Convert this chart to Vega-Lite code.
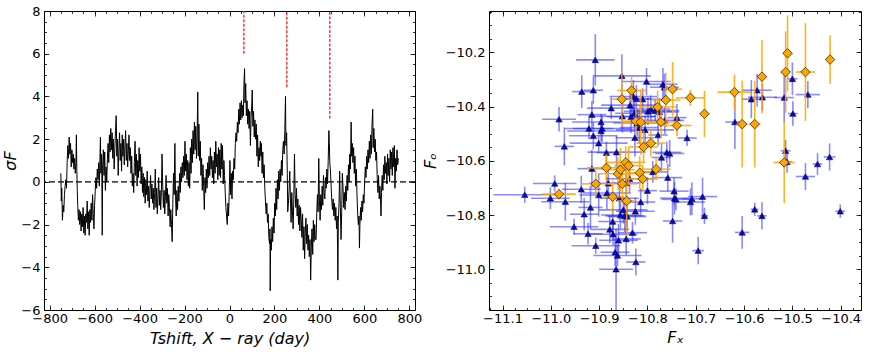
{
"$schema":"https://vega.github.io/schema/vega-lite/v6.json",
"background":"white",
"padding":{"left":2,"top":4,"right":2,"bottom":2},
"spacing":74,
"bounds":"flush",
"config":{
 "font":"DejaVu Sans",
 "view":{"stroke":"black","strokeWidth":1},
 "axis":{"domain":false,"grid":false,"tickColor":"black","tickWidth":0.8,"labelFont":"DejaVu Sans","labelFontSize":13,"labelColor":"black","titleFont":"DejaVu Sans","titleFontSize":16,"titleFontStyle":"italic","titleFontWeight":"normal","titleColor":"black","labelFlush":false,"labelOverlap":false,"labelExpr":"replace(datum.label, '-', '−')"}
},
"datasets":{
"red":[{"t":64,"lo":6.0,"hi":8},{"t":255,"lo":4.43,"hi":8},{"t":446,"lo":2.97,"hi":8}],
"sig":[
{"t":-750,"s":0.4},{"t":-748,"s":-0.9},{"t":-746,"s":-0.3},{"t":-743,"s":-1.8},{"t":-740,"s":-1.1},{"t":-737,"s":-1.4},{"t":-734,"s":-0.6},{"t":-731,"s":-0.2},{"t":-728,"s":0.1},{"t":-725,"s":-0.3},{"t":-722,"s":0.9},{"t":-719,"s":1.7},{"t":-716,"s":1.1},{"t":-713,"s":2.1},{"t":-710,"s":1.3},{"t":-707,"s":1.8},{"t":-704,"s":0.7},{"t":-701,"s":1.5},{"t":-698,"s":0.9},{"t":-695,"s":1.3},{"t":-692,"s":0.6},{"t":-689,"s":1.1},{"t":-686,"s":0.4},{"t":-683,"s":0.9},{"t":-681,"s":2.2},{"t":-679,"s":0.6},{"t":-677,"s":-0.4},
{"t":-675,"s":-1.1},{"t":-672,"s":-1.8},{"t":-669,"s":-1.3},{"t":-666,"s":-2.0},{"t":-663,"s":-1.4},{"t":-660,"s":-2.3},{"t":-657,"s":-1.5},{"t":-654,"s":-2.1},{"t":-651,"s":-1.2},{"t":-648,"s":-2.4},{"t":-645,"s":-1.6},{"t":-642,"s":-2.5},{"t":-639,"s":-1.5},{"t":-636,"s":-1.9},{"t":-633,"s":-0.9},{"t":-630,"s":-2.2},{"t":-627,"s":-1.4},{"t":-624,"s":-2.5},{"t":-621,"s":-1.3},{"t":-618,"s":-1.9},{"t":-615,"s":-1.0},{"t":-612,"s":-1.8},{"t":-609,"s":-0.6},{"t":-606,"s":-1.5},{"t":-603,"s":-2.2},{"t":-600,"s":-1.1},{"t":-597,"s":-0.4},{"t":-594,"s":0.2},{"t":-591,"s":-0.3},{"t":-588,"s":0.6},{"t":-585,"s":0.1},{"t":-582,"s":0.9},{"t":-579,"s":-0.2},{"t":-576,"s":1.2},{"t":-574,"s":2.1},{"t":-572,"s":0.4},{"t":-570,"s":1.3},{"t":-568,"s":0.5},{"t":-566,"s":-2.5},{"t":-564,"s":0.8},{"t":-561,"s":1.5},{"t":-558,"s":0.3},{"t":-555,"s":1.4},{"t":-552,"s":-0.4},{"t":-549,"s":0.7},{"t":-546,"s":0.0},{"t":-543,"s":1.1},{"t":-540,"s":1.8},{"t":-537,"s":0.9},{"t":-534,"s":2.2},{"t":-531,"s":1.4},{"t":-528,"s":2.5},{"t":-525,"s":1.5},{"t":-522,"s":2.3},{"t":-519,"s":1.1},{"t":-516,"s":2.0},{"t":-513,"s":0.6},{"t":-510,"s":1.5},{"t":-507,"s":2.4},{"t":-504,"s":3.1},{"t":-501,"s":1.2},{"t":-498,"s":2.0},{"t":-495,"s":0.3},{"t":-492,"s":1.5},{"t":-489,"s":2.3},{"t":-486,"s":1.0},{"t":-483,"s":1.8},{"t":-480,"s":0.5},{"t":-477,"s":2.2},{"t":-474,"s":1.2},{"t":-471,"s":2.0},{"t":-468,"s":0.8},{"t":-465,"s":1.7},{"t":-462,"s":2.4},{"t":-459,"s":1.0},{"t":-456,"s":1.8},{"t":-453,"s":0.7},{"t":-450,"s":1.4},{"t":-447,"s":2.2},{"t":-444,"s":1.0},{"t":-441,"s":1.6},{"t":-438,"s":0.4},{"t":-435,"s":1.2},{"t":-432,"s":-0.2},{"t":-429,"s":0.4},{"t":-426,"s":-0.5},{"t":-423,"s":0.9},{"t":-420,"s":1.9},{"t":-417,"s":0.3},{"t":-414,"s":1.3},{"t":-411,"s":-0.2},{"t":-408,"s":1.0},{"t":-405,"s":0.2},{"t":-402,"s":1.6},{"t":-399,"s":0.5},{"t":-396,"s":1.3},{"t":-393,"s":-0.1},{"t":-390,"s":0.7},{"t":-387,"s":-0.5},{"t":-384,"s":0.4},{"t":-381,"s":-0.7},{"t":-378,"s":0.2},{"t":-375,"s":-1.0},{"t":-372,"s":0.1},{"t":-369,"s":-0.6},{"t":-366,"s":0.5},{"t":-363,"s":-0.9},{"t":-360,"s":-0.2},{"t":-357,"s":-1.2},{"t":-354,"s":-0.4},{"t":-351,"s":0.3},{"t":-348,"s":-0.8},{"t":-345,"s":-0.1},{"t":-342,"s":-1.0},{"t":-339,"s":-0.3},{"t":-336,"s":-1.3},{"t":-333,"s":-0.5},{"t":-330,"s":0.6},{"t":-327,"s":-1.2},{"t":-324,"s":-0.3},{"t":-321,"s":-1.5},{"t":-318,"s":-0.6},{"t":-315,"s":0.2},{"t":-312,"s":-1.1},{"t":-309,"s":-0.4},{"t":-306,"s":-1.3},{"t":-303,"s":-0.5},{"t":-300,"s":1.3},{"t":-297,"s":-0.2},{"t":-294,"s":-1.2},{"t":-291,"s":-0.4},{"t":-288,"s":-1.5},{"t":-285,"s":-0.7},{"t":-282,"s":0.3},{"t":-279,"s":-1.0},{"t":-276,"s":-0.3},{"t":-273,"s":-1.6},{"t":-270,"s":-0.6},{"t":-267,"s":-1.2},{"t":-264,"s":-2.1},{"t":-261,"s":-1.3},{"t":-258,"s":-2.0},{"t":-255,"s":-2.8},{"t":-252,"s":-1.0},{"t":-249,"s":0.4},{"t":-246,"s":-0.6},{"t":-243,"s":1.8},{"t":-240,"s":-0.7},{"t":-237,"s":-1.6},{"t":-234,"s":-0.4},{"t":-231,"s":-1.3},{"t":-228,"s":-0.2},{"t":-225,"s":-0.9},{"t":-222,"s":0.4},{"t":-219,"s":-0.5},{"t":-216,"s":0.7},{"t":-213,"s":0.0},{"t":-210,"s":0.9},{"t":-207,"s":0.2},{"t":-204,"s":1.2},{"t":-201,"s":0.3},{"t":-198,"s":1.9},{"t":-195,"s":0.5},{"t":-192,"s":1.3},{"t":-189,"s":0.1},{"t":-186,"s":1.0},{"t":-183,"s":-0.2},{"t":-180,"s":0.9},{"t":-177,"s":-0.3},{"t":-174,"s":1.6},{"t":-171,"s":0.4},{"t":-168,"s":2.0},{"t":-165,"s":0.9},{"t":-162,"s":2.4},{"t":-159,"s":1.3},{"t":-156,"s":2.8},{"t":-153,"s":1.5},{"t":-150,"s":2.6},{"t":-147,"s":1.1},{"t":-144,"s":2.2},{"t":-141,"s":4.2},{"t":-139,"s":1.2},{"t":-136,"s":2.7},{"t":-133,"s":1.0},{"t":-130,"s":1.9},{"t":-127,"s":0.3},{"t":-124,"s":1.1},{"t":-121,"s":-0.4},{"t":-118,"s":0.8},{"t":-115,"s":-0.2},{"t":-112,"s":-1.3},{"t":-109,"s":0.2},{"t":-106,"s":-0.5},{"t":-103,"s":0.6},{"t":-100,"s":-0.3},{"t":-97,"s":0.9},{"t":-94,"s":0.2},{"t":-91,"s":1.2},{"t":-88,"s":0.3},{"t":-85,"s":1.6},{"t":-82,"s":0.6},{"t":-79,"s":1.2},{"t":-76,"s":0.2},{"t":-73,"s":1.0},{"t":-70,"s":-0.1},{"t":-67,"s":1.4},{"t":-64,"s":0.4},{"t":-61,"s":1.9},{"t":-58,"s":0.7},{"t":-55,"s":1.3},{"t":-52,"s":0.1},{"t":-49,"s":1.6},{"t":-46,"s":0.3},{"t":-43,"s":1.5},{"t":-40,"s":0.2},{"t":-37,"s":1.8},{"t":-34,"s":0.6},{"t":-31,"s":1.7},{"t":-28,"s":-0.1},{"t":-25,"s":1.0},{"t":-22,"s":0.3},{"t":-19,"s":-0.5},{"t":-16,"s":-1.2},{"t":-13,"s":-1.6},{"t":-10,"s":-2.0},{"t":-7,"s":-1.0},{"t":-4,"s":-1.6},{"t":-1,"s":-0.4},{"t":2,"s":1.0},{"t":5,"s":-0.6},{"t":8,"s":0.4},{"t":11,"s":-0.8},{"t":14,"s":0.5},{"t":17,"s":0.1},{"t":20,"s":1.1},{"t":23,"s":0.6},{"t":26,"s":1.8},{"t":29,"s":2.3},{"t":32,"s":1.9},{"t":35,"s":2.8},{"t":38,"s":2.3},{"t":41,"s":3.4},{"t":44,"s":2.7},{"t":47,"s":3.7},{"t":50,"s":2.9},{"t":53,"s":3.8},{"t":56,"s":3.0},{"t":59,"s":3.6},{"t":62,"s":3.1},{"t":64,"s":4.5},{"t":67,"s":5.3},{"t":69,"s":3.7},{"t":72,"s":4.6},{"t":75,"s":3.1},{"t":78,"s":3.8},{"t":81,"s":2.7},{"t":84,"s":3.4},{"t":87,"s":2.5},{"t":90,"s":3.3},{"t":93,"s":1.7},{"t":96,"s":3.0},{"t":99,"s":3.6},{"t":101,"s":4.3},{"t":104,"s":2.6},{"t":107,"s":3.3},{"t":110,"s":2.1},{"t":113,"s":2.9},{"t":116,"s":2.0},{"t":119,"s":2.7},{"t":122,"s":1.2},{"t":125,"s":2.2},{"t":128,"s":0.7},{"t":131,"s":1.6},{"t":134,"s":1.0},{"t":137,"s":1.9},{"t":140,"s":1.2},{"t":142,"s":1.8},{"t":145,"s":0.4},{"t":148,"s":1.4},{"t":151,"s":0.2},{"t":154,"s":0.8},{"t":157,"s":-0.3},{"t":160,"s":-0.9},{"t":163,"s":-1.5},{"t":166,"s":-1.0},{"t":169,"s":-1.9},{"t":172,"s":-1.5},{"t":175,"s":-2.6},{"t":178,"s":-2.9},{"t":180,"s":-2.2},{"t":181,"s":-5.1},{"t":183,"s":-2.7},{"t":186,"s":-3.2},{"t":189,"s":-2.1},{"t":192,"s":-2.8},{"t":195,"s":-1.7},{"t":198,"s":-2.4},{"t":201,"s":-1.0},{"t":204,"s":-1.6},{"t":207,"s":-0.3},{"t":210,"s":-1.3},{"t":213,"s":0.1},{"t":216,"s":-0.8},{"t":219,"s":0.5},{"t":222,"s":-0.4},{"t":225,"s":0.6},{"t":228,"s":0.0},{"t":231,"s":1.0},{"t":234,"s":0.3},{"t":237,"s":1.5},{"t":240,"s":1.9},{"t":243,"s":1.3},{"t":246,"s":2.4},{"t":249,"s":4.0},{"t":251,"s":1.7},{"t":254,"s":2.3},{"t":257,"s":0.4},{"t":259,"s":-1.4},{"t":262,"s":-1.0},{"t":265,"s":-0.4},{"t":268,"s":0.5},{"t":271,"s":-0.8},{"t":274,"s":-1.9},{"t":277,"s":-0.5},{"t":280,"s":-1.4},{"t":283,"s":-2.2},{"t":286,"s":-0.8},{"t":289,"s":1.3},{"t":292,"s":-0.6},{"t":295,"s":-1.2},{"t":298,"s":-0.3},{"t":301,"s":-1.6},{"t":304,"s":-0.8},{"t":307,"s":-2.0},{"t":310,"s":-1.1},{"t":313,"s":-2.3},{"t":316,"s":-1.2},{"t":319,"s":-1.8},{"t":322,"s":-2.6},{"t":325,"s":-1.5},{"t":328,"s":-3.2},{"t":331,"s":-2.1},{"t":334,"s":-3.6},{"t":337,"s":-2.4},{"t":340,"s":-1.7},{"t":343,"s":-2.9},{"t":346,"s":-2.0},{"t":349,"s":-3.2},{"t":352,"s":-2.5},{"t":355,"s":-3.5},{"t":358,"s":-2.7},{"t":361,"s":-4.6},{"t":364,"s":-3.0},{"t":367,"s":-2.2},{"t":370,"s":-3.4},{"t":373,"s":-1.8},{"t":376,"s":-2.8},{"t":379,"s":-2.0},{"t":382,"s":-2.7},{"t":385,"s":-2.7},{"t":388,"s":-1.5},{"t":391,"s":-0.6},{"t":394,"s":-1.4},{"t":397,"s":1.1},{"t":400,"s":-0.9},{"t":403,"s":-1.8},{"t":406,"s":-0.6},{"t":409,"s":-1.3},{"t":412,"s":-0.2},{"t":415,"s":-1.1},{"t":418,"s":0.3},{"t":421,"s":-0.5},{"t":424,"s":-0.8},{"t":427,"s":0.2},{"t":430,"s":-0.3},{"t":433,"s":0.6},{"t":436,"s":-0.1},{"t":439,"s":1.0},{"t":442,"s":2.4},{"t":444,"s":1.8},{"t":446,"s":0.9},{"t":449,"s":0.5},{"t":452,"s":-0.2},{"t":455,"s":-0.9},{"t":458,"s":-1.3},{"t":461,"s":-0.8},{"t":464,"s":-1.6},{"t":467,"s":-1.0},{"t":470,"s":-1.8},{"t":473,"s":-1.2},{"t":476,"s":-2.2},{"t":479,"s":-1.6},{"t":482,"s":-4.6},{"t":484,"s":-1.9},{"t":487,"s":-1.0},{"t":490,"s":0.5},{"t":493,"s":-1.2},{"t":496,"s":-2.7},{"t":499,"s":-1.4},{"t":502,"s":0.4},{"t":505,"s":-0.3},{"t":508,"s":-1.2},{"t":511,"s":-0.5},{"t":514,"s":-1.3},{"t":517,"s":-0.2},{"t":520,"s":-0.9},{"t":523,"s":0.3},{"t":526,"s":-0.4},{"t":529,"s":0.8},{"t":532,"s":0.0},{"t":535,"s":1.3},{"t":538,"s":0.6},{"t":541,"s":2.8},{"t":543,"s":1.2},{"t":546,"s":1.8},{"t":549,"s":0.9},{"t":552,"s":1.6},{"t":555,"s":0.4},{"t":558,"s":1.2},{"t":561,"s":-0.2},{"t":564,"s":0.6},{"t":567,"s":-0.6},{"t":570,"s":-1.5},{"t":573,"s":-2.0},{"t":576,"s":-1.6},{"t":578,"s":-3.1},{"t":580,"s":-2.0},{"t":583,"s":-1.2},{"t":586,"s":-1.8},{"t":589,"s":-0.9},{"t":592,"s":-1.4},{"t":595,"s":-0.6},{"t":598,"s":-1.0},{"t":601,"s":0.0},{"t":604,"s":0.7},{"t":607,"s":0.2},{"t":610,"s":1.2},{"t":613,"s":0.6},{"t":616,"s":1.5},{"t":619,"s":0.9},{"t":622,"s":1.9},{"t":625,"s":1.1},{"t":628,"s":2.2},{"t":631,"s":1.3},{"t":634,"s":2.7},{"t":637,"s":3.4},{"t":639,"s":1.6},{"t":642,"s":2.5},{"t":645,"s":1.4},{"t":648,"s":2.0},{"t":651,"s":1.0},{"t":654,"s":1.4},{"t":657,"s":0.2},{"t":660,"s":-0.5},{"t":663,"s":0.3},{"t":666,"s":-0.8},{"t":669,"s":-0.2},{"t":672,"s":-1.0},{"t":674,"s":-1.6},{"t":676,"s":-0.5},{"t":679,"s":0.3},{"t":682,"s":-0.4},{"t":685,"s":0.8},{"t":688,"s":0.1},{"t":691,"s":1.2},{"t":694,"s":0.4},{"t":697,"s":0.9},{"t":700,"s":-0.1},{"t":703,"s":1.3},{"t":706,"s":0.3},{"t":709,"s":1.1},{"t":712,"s":0.0},{"t":715,"s":1.5},{"t":718,"s":0.6},{"t":721,"s":1.4},{"t":724,"s":0.3},{"t":727,"s":1.6},{"t":730,"s":0.7},{"t":733,"s":1.7},{"t":736,"s":-0.3},{"t":739,"s":1.1},{"t":742,"s":0.5},{"t":745,"s":1.5},{"t":748,"s":0.8},{"t":751,"s":1.1}
],
"blue":[
{"x":-11.054,"y":-10.725,"xe":0.065,"ye":0.03},{"x":-11.001,"y":-10.738,"xe":0.04,"ye":0.04},{"x":-10.992,"y":-10.684,"xe":0.045,"ye":0.03},{"x":-10.983,"y":-10.447,"xe":0.035,"ye":0.045},{"x":-10.972,"y":-10.547,"xe":0.02,"ye":0.07},{"x":-10.97,"y":-10.751,"xe":0.05,"ye":0.07},{"x":-10.952,"y":-10.843,"xe":0.05,"ye":0.03},{"x":-10.936,"y":-10.345,"xe":0.02,"ye":0.06},{"x":-10.937,"y":-10.705,"xe":0.04,"ye":0.05},{"x":-10.931,"y":-10.797,"xe":0.03,"ye":0.06},{"x":-10.923,"y":-10.869,"xe":0.03,"ye":0.04},{"x":-10.921,"y":-10.481,"xe":0.05,"ye":0.04},{"x":-10.918,"y":-10.772,"xe":0.025,"ye":0.08},{"x":-10.915,"y":-10.43,"xe":0.03,"ye":0.05},{"x":-10.912,"y":-10.34,"xe":0.02,"ye":0.05},{"x":-10.915,"y":-10.629,"xe":0.03,"ye":0.07},{"x":-10.912,"y":-10.508,"xe":0.05,"ye":0.05},{"x":-10.908,"y":-10.228,"xe":0.04,"ye":0.095},{"x":-10.907,"y":-10.913,"xe":0.05,"ye":0.03},{"x":-10.901,"y":-10.535,"xe":0.06,"ye":0.03},{"x":-10.901,"y":-10.726,"xe":0.04,"ye":0.08},{"x":-10.896,"y":-10.49,"xe":0.07,"ye":0.04},{"x":-10.896,"y":-10.457,"xe":0.06,"ye":0.03},{"x":-10.894,"y":-10.481,"xe":0.06,"ye":0.05},{"x":-10.885,"y":-10.57,"xe":0.02,"ye":0.04},{"x":-10.884,"y":-10.719,"xe":0.05,"ye":0.06},{"x":-10.881,"y":-10.683,"xe":0.04,"ye":0.05},{"x":-10.878,"y":-10.853,"xe":0.04,"ye":0.05},{"x":-10.875,"y":-10.406,"xe":0.05,"ye":0.04},{"x":-10.872,"y":-10.824,"xe":0.03,"ye":0.05},{"x":-10.871,"y":-10.871,"xe":0.05,"ye":0.04},{"x":-10.867,"y":-10.937,"xe":0.03,"ye":0.05},{"x":-10.865,"y":-11.0,"xe":0.035,"ye":0.15},{"x":-10.864,"y":-10.568,"xe":0.06,"ye":0.06},{"x":-10.862,"y":-10.949,"xe":0.05,"ye":0.04},{"x":-10.86,"y":-10.893,"xe":0.04,"ye":0.06},{"x":-10.858,"y":-10.738,"xe":0.04,"ye":0.08},{"x":-10.856,"y":-10.8,"xe":0.04,"ye":0.05},{"x":-10.853,"y":-10.287,"xe":0.06,"ye":0.08},{"x":-10.852,"y":-10.436,"xe":0.07,"ye":0.06},{"x":-10.85,"y":-10.781,"xe":0.05,"ye":0.05},{"x":-10.847,"y":-10.803,"xe":0.04,"ye":0.06},{"x":-10.844,"y":-10.888,"xe":0.03,"ye":0.06},{"x":-10.844,"y":-10.682,"xe":0.03,"ye":0.05},{"x":-10.842,"y":-10.805,"xe":0.04,"ye":0.05},{"x":-10.837,"y":-10.666,"xe":0.05,"ye":0.05},{"x":-10.836,"y":-10.395,"xe":0.06,"ye":0.04},{"x":-10.834,"y":-10.438,"xe":0.05,"ye":0.06},{"x":-10.831,"y":-10.865,"xe":0.03,"ye":0.04},{"x":-10.829,"y":-10.363,"xe":0.05,"ye":0.06},{"x":-10.827,"y":-10.425,"xe":0.04,"ye":0.05},{"x":-10.826,"y":-10.515,"xe":0.04,"ye":0.07},{"x":-10.825,"y":-10.786,"xe":0.04,"ye":0.05},{"x":-10.824,"y":-10.973,"xe":0.02,"ye":0.05},{"x":-10.823,"y":-10.371,"xe":0.03,"ye":0.05},{"x":-10.821,"y":-10.461,"xe":0.05,"ye":0.05},{"x":-10.817,"y":-10.478,"xe":0.04,"ye":0.06},{"x":-10.814,"y":-10.752,"xe":0.03,"ye":0.05},{"x":-10.81,"y":-10.373,"xe":0.05,"ye":0.04},{"x":-10.805,"y":-10.486,"xe":0.06,"ye":0.05},{"x":-10.802,"y":-10.308,"xe":0.05,"ye":0.05},{"x":-10.8,"y":-10.71,"xe":0.02,"ye":0.05},{"x":-10.799,"y":-10.418,"xe":0.05,"ye":0.05},{"x":-10.793,"y":-10.409,"xe":0.04,"ye":0.05},{"x":-10.789,"y":-10.641,"xe":0.03,"ye":0.04},{"x":-10.784,"y":-10.415,"xe":0.05,"ye":0.04},{"x":-10.778,"y":-10.505,"xe":0.02,"ye":0.04},{"x":-10.775,"y":-10.42,"xe":0.04,"ye":0.05},{"x":-10.771,"y":-10.588,"xe":0.02,"ye":0.05},{"x":-10.768,"y":-10.318,"xe":0.03,"ye":0.06},{"x":-10.765,"y":-10.329,"xe":0.03,"ye":0.05},{"x":-10.764,"y":-10.451,"xe":0.04,"ye":0.05},{"x":-10.76,"y":-10.569,"xe":0.03,"ye":0.04},{"x":-10.758,"y":-10.662,"xe":0.03,"ye":0.05},{"x":-10.754,"y":-10.573,"xe":0.03,"ye":0.05},{"x":-10.748,"y":-10.822,"xe":0.02,"ye":0.08},{"x":-10.745,"y":-10.712,"xe":0.03,"ye":0.05},{"x":-10.744,"y":-10.738,"xe":0.03,"ye":0.06},{"x":-10.741,"y":-10.742,"xe":0.03,"ye":0.04},{"x":-10.739,"y":-10.441,"xe":0.02,"ye":0.05},{"x":-10.718,"y":-10.516,"xe":0.02,"ye":0.03},{"x":-10.711,"y":-10.752,"xe":0.03,"ye":0.05},{"x":-10.708,"y":-10.74,"xe":0.02,"ye":0.06},{"x":-10.686,"y":-10.732,"xe":0.03,"ye":0.07},{"x":-10.682,"y":-10.803,"xe":0.008,"ye":0.03},{"x":-10.695,"y":-10.931,"xe":0.012,"ye":0.05},{"x":-10.619,"y":-10.457,"xe":0.02,"ye":0.1},{"x":-10.604,"y":-10.864,"xe":0.015,"ye":0.06},{"x":-10.585,"y":-10.373,"xe":0.02,"ye":0.07},{"x":-10.578,"y":-10.779,"xe":0.008,"ye":0.025},{"x":-10.573,"y":-10.34,"xe":0.03,"ye":0.06},{"x":-10.563,"y":-10.803,"xe":0.01,"ye":0.05},{"x":-10.562,"y":-10.366,"xe":0.03,"ye":0.05},{"x":-10.517,"y":-10.367,"xe":0.02,"ye":0.09},{"x":-10.514,"y":-10.563,"xe":0.01,"ye":0.04},{"x":-10.511,"y":-10.604,"xe":0.01,"ye":0.04},{"x":-10.5,"y":-10.298,"xe":0.01,"ye":0.06},{"x":-10.499,"y":-10.426,"xe":0.01,"ye":0.045},{"x":-10.473,"y":-10.658,"xe":0.02,"ye":0.05},{"x":-10.468,"y":-10.356,"xe":0.025,"ye":0.05},{"x":-10.448,"y":-10.612,"xe":0.01,"ye":0.04},{"x":-10.423,"y":-10.586,"xe":0.012,"ye":0.05},{"x":-10.401,"y":-10.786,"xe":0.01,"ye":0.025}
],
"orange":[
{"x":-10.983,"y":-10.723,"xe":0.035,"ye":0.02},{"x":-10.907,"y":-10.685,"xe":0.03,"ye":0.05},{"x":-10.885,"y":-10.626,"xe":0.04,"ye":0.05},{"x":-10.872,"y":-10.733,"xe":0.02,"ye":0.06},{"x":-10.861,"y":-10.648,"xe":0.04,"ye":0.06},{"x":-10.856,"y":-10.633,"xe":0.03,"ye":0.08},{"x":-10.852,"y":-10.685,"xe":0.03,"ye":0.07},{"x":-10.853,"y":-10.373,"xe":0.02,"ye":0.1},{"x":-10.845,"y":-10.606,"xe":0.04,"ye":0.06},{"x":-10.839,"y":-10.618,"xe":0.03,"ye":0.07},{"x":-10.843,"y":-10.748,"xe":0.02,"ye":0.13},{"x":-10.833,"y":-10.341,"xe":0.03,"ye":0.05},{"x":-10.824,"y":-10.454,"xe":0.03,"ye":0.05},{"x":-10.814,"y":-10.458,"xe":0.04,"ye":0.12},{"x":-10.816,"y":-10.644,"xe":0.02,"ye":0.06},{"x":-10.81,"y":-10.667,"xe":0.03,"ye":0.05},{"x":-10.808,"y":-10.549,"xe":0.03,"ye":0.06},{"x":-10.793,"y":-10.535,"xe":0.03,"ye":0.05},{"x":-10.782,"y":-10.631,"xe":0.03,"ye":0.04},{"x":-10.779,"y":-10.402,"xe":0.04,"ye":0.06},{"x":-10.772,"y":-10.457,"xe":0.03,"ye":0.06},{"x":-10.762,"y":-10.376,"xe":0.03,"ye":0.1},{"x":-10.748,"y":-10.336,"xe":0.02,"ye":0.1},{"x":-10.739,"y":-10.47,"xe":0.03,"ye":0.04},{"x":-10.711,"y":-10.368,"xe":0.03,"ye":0.03},{"x":-10.682,"y":-10.427,"xe":0.01,"ye":0.085},{"x":-10.62,"y":-10.347,"xe":0.035,"ye":0.065},{"x":-10.604,"y":-10.465,"xe":0.012,"ye":0.16},{"x":-10.578,"y":-10.465,"xe":0.012,"ye":0.16},{"x":-10.563,"y":-10.29,"xe":0.01,"ye":0.135},{"x":-10.517,"y":-10.606,"xe":0.022,"ye":0.15},{"x":-10.514,"y":-10.273,"xe":0.01,"ye":0.15},{"x":-10.51,"y":-10.204,"xe":0.01,"ye":0.14},{"x":-10.473,"y":-10.273,"xe":0.02,"ye":0.18},{"x":-10.422,"y":-10.227,"xe":0.008,"ye":0.09}
]
},
"hconcat":[
{
 "width":371,"height":299,
 "resolve":{"axis":{"x":"independent","y":"independent"}},
 "layer":[
  {"data":{"name":"sig"},"mark":{"type":"line","color":"black","strokeWidth":1.0},
   "encoding":{
    "x":{"field":"t","type":"quantitative","scale":{"domain":[-825,825],"nice":false,"zero":false},
      "axis":{"orient":"bottom","values":[-800,-600,-400,-200,0,200,400,600,800],"tickSize":-5,"labelPadding":7,"title":"Tshift, X − ray (day)","titlePadding":5}},
    "y":{"field":"s","type":"quantitative","scale":{"domain":[-6,8],"nice":false,"zero":false},
      "axis":{"orient":"left","values":[-6,-4,-2,0,2,4,6,8],"tickSize":-5,"labelPadding":9,"title":"σF","titlePadding":2}}}},
  {"data":{"values":[{"z":0}]},"mark":{"type":"rule","color":"black","strokeWidth":1.4,"strokeDash":[6,3]},
   "encoding":{"y":{"field":"z","type":"quantitative","scale":{"domain":[-6,8],"nice":false,"zero":false},"axis":null}}},
  {"data":{"name":"red"},"mark":{"type":"rule","color":"#ff2a2a","strokeWidth":1.4,"strokeDash":[3,1.5]},
   "encoding":{
    "x":{"field":"t","type":"quantitative","scale":{"domain":[-825,825],"nice":false,"zero":false},
      "axis":{"orient":"top","values":[-800,-600,-400,-200,0,200,400,600,800],"tickSize":-5,"labels":false,"title":null}},
    "y":{"field":"lo","type":"quantitative","scale":{"domain":[-6,8],"nice":false,"zero":false},
      "axis":{"orient":"right","values":[-6,-4,-2,0,2,4,6,8],"tickSize":-5,"labels":false,"title":null}},
    "y2":{"field":"hi"}}},
  {"data":{"name":"red"},"mark":{"type":"point","opacity":0},
   "encoding":{
    "x":{"field":"t","type":"quantitative","scale":{"domain":[-825,825],"nice":false,"zero":false},
      "axis":{"orient":"bottom","values":[-800,-750,-700,-650,-600,-550,-500,-450,-400,-350,-300,-250,-200,-150,-100,-50,0,50,100,150,200,250,300,350,400,450,500,550,600,650,700,750,800],"tickSize":-2.5,"labels":false,"title":null}},
    "y":{"field":"lo","type":"quantitative","scale":{"domain":[-6,8],"nice":false,"zero":false},
      "axis":{"orient":"left","values":[-6,-5.5,-5,-4.5,-4,-3.5,-3,-2.5,-2,-1.5,-1,-0.5,0,0.5,1,1.5,2,2.5,3,3.5,4,4.5,5,5.5,6,6.5,7,7.5,8],"tickSize":-2.5,"labels":false,"title":null}}}},
  {"data":{"name":"red"},"mark":{"type":"point","opacity":0},
   "encoding":{
    "x":{"field":"t","type":"quantitative","scale":{"domain":[-825,825],"nice":false,"zero":false},
      "axis":{"orient":"top","values":[-800,-750,-700,-650,-600,-550,-500,-450,-400,-350,-300,-250,-200,-150,-100,-50,0,50,100,150,200,250,300,350,400,450,500,550,600,650,700,750,800],"tickSize":-2.5,"labels":false,"title":null}},
    "y":{"field":"lo","type":"quantitative","scale":{"domain":[-6,8],"nice":false,"zero":false},
      "axis":{"orient":"right","values":[-6,-5.5,-5,-4.5,-4,-3.5,-3,-2.5,-2,-1.5,-1,-0.5,0,0.5,1,1.5,2,2.5,3,3.5,4,4.5,5,5.5,6,6.5,7,7.5,8],"tickSize":-2.5,"labels":false,"title":null}}}}
 ]
},
{
 "width":372,"height":299,
 "resolve":{"axis":{"x":"independent","y":"independent"}},
 "layer":[
  {"data":{"name":"blue"},"mark":{"type":"errorbar","color":"#2a2aff","opacity":0.55,"thickness":1.6},
   "encoding":{
    "x":{"field":"x","type":"quantitative","scale":{"domain":[-11.128,-10.358],"nice":false,"zero":false},"axis":null},
    "xError":{"field":"xe"},
    "y":{"field":"y","type":"quantitative","scale":{"domain":[-11.15,-10.048],"nice":false,"zero":false},"axis":null}}},
  {"data":{"name":"blue"},"mark":{"type":"errorbar","color":"#2a2aff","opacity":0.55,"thickness":1.6},
   "encoding":{
    "x":{"field":"x","type":"quantitative","scale":{"domain":[-11.128,-10.358],"nice":false,"zero":false},"axis":null},
    "y":{"field":"y","type":"quantitative","scale":{"domain":[-11.15,-10.048],"nice":false,"zero":false},"axis":null},
    "yError":{"field":"ye"}}},
  {"data":{"name":"blue"},"mark":{"type":"point","shape":"triangle-up","filled":true,"size":42,"color":"#0c0ca8","stroke":"#000060","strokeWidth":0.5,"opacity":1},
   "encoding":{
    "x":{"field":"x","type":"quantitative","scale":{"domain":[-11.128,-10.358],"nice":false,"zero":false},
      "axis":{"orient":"bottom","values":[-11.1,-11.0,-10.9,-10.8,-10.7,-10.6,-10.5,-10.4],"format":".1f","tickSize":-5,"labelPadding":7,"title":"Fₓ","titlePadding":4}},
    "y":{"field":"y","type":"quantitative","scale":{"domain":[-11.15,-10.048],"nice":false,"zero":false},
      "axis":{"orient":"left","values":[-11.0,-10.8,-10.6,-10.4,-10.2],"format":".1f","tickSize":-5,"labelPadding":9,"title":"Fₒ","titlePadding":7}}}},
  {"data":{"name":"orange"},"mark":{"type":"errorbar","color":"#ffa500","opacity":0.85,"thickness":1.6},
   "encoding":{
    "x":{"field":"x","type":"quantitative","scale":{"domain":[-11.128,-10.358],"nice":false,"zero":false},"axis":null},
    "xError":{"field":"xe"},
    "y":{"field":"y","type":"quantitative","scale":{"domain":[-11.15,-10.048],"nice":false,"zero":false},"axis":null}}},
  {"data":{"name":"orange"},"mark":{"type":"errorbar","color":"#ffa500","opacity":0.85,"thickness":1.6},
   "encoding":{
    "x":{"field":"x","type":"quantitative","scale":{"domain":[-11.128,-10.358],"nice":false,"zero":false},"axis":null},
    "y":{"field":"y","type":"quantitative","scale":{"domain":[-11.15,-10.048],"nice":false,"zero":false},"axis":null},
    "yError":{"field":"ye"}}},
  {"data":{"name":"orange"},"mark":{"type":"point","shape":"diamond","filled":true,"size":90,"color":"#ffa500","stroke":"#3a2a00","strokeWidth":0.8,"opacity":1},
   "encoding":{
    "x":{"field":"x","type":"quantitative","scale":{"domain":[-11.128,-10.358],"nice":false,"zero":false},
      "axis":{"orient":"top","values":[-11.1,-11.0,-10.9,-10.8,-10.7,-10.6,-10.5,-10.4],"tickSize":-5,"labels":false,"title":null}},
    "y":{"field":"y","type":"quantitative","scale":{"domain":[-11.15,-10.048],"nice":false,"zero":false},
      "axis":{"orient":"right","values":[-11.0,-10.8,-10.6,-10.4,-10.2],"tickSize":-5,"labels":false,"title":null}}}},
  {"data":{"name":"orange"},"mark":{"type":"point","opacity":0},
   "encoding":{
    "x":{"field":"x","type":"quantitative","scale":{"domain":[-11.128,-10.358],"nice":false,"zero":false},
      "axis":{"orient":"bottom","values":[-11.125,-11.1,-11.075,-11.05,-11.025,-11.0,-10.975,-10.95,-10.925,-10.9,-10.875,-10.85,-10.825,-10.8,-10.775,-10.75,-10.725,-10.7,-10.675,-10.65,-10.625,-10.6,-10.575,-10.55,-10.525,-10.5,-10.475,-10.45,-10.425,-10.4,-10.375],"tickSize":-2.5,"labels":false,"title":null}},
    "y":{"field":"y","type":"quantitative","scale":{"domain":[-11.15,-10.048],"nice":false,"zero":false},
      "axis":{"orient":"left","values":[-11.15,-11.1,-11.05,-11.0,-10.95,-10.9,-10.85,-10.8,-10.75,-10.7,-10.65,-10.6,-10.55,-10.5,-10.45,-10.4,-10.35,-10.3,-10.25,-10.2,-10.15,-10.1,-10.05],"tickSize":-2.5,"labels":false,"title":null}}}},
  {"data":{"name":"orange"},"mark":{"type":"point","opacity":0},
   "encoding":{
    "x":{"field":"x","type":"quantitative","scale":{"domain":[-11.128,-10.358],"nice":false,"zero":false},
      "axis":{"orient":"top","values":[-11.125,-11.1,-11.075,-11.05,-11.025,-11.0,-10.975,-10.95,-10.925,-10.9,-10.875,-10.85,-10.825,-10.8,-10.775,-10.75,-10.725,-10.7,-10.675,-10.65,-10.625,-10.6,-10.575,-10.55,-10.525,-10.5,-10.475,-10.45,-10.425,-10.4,-10.375],"tickSize":-2.5,"labels":false,"title":null}},
    "y":{"field":"y","type":"quantitative","scale":{"domain":[-11.15,-10.048],"nice":false,"zero":false},
      "axis":{"orient":"right","values":[-11.15,-11.1,-11.05,-11.0,-10.95,-10.9,-10.85,-10.8,-10.75,-10.7,-10.65,-10.6,-10.55,-10.5,-10.45,-10.4,-10.35,-10.3,-10.25,-10.2,-10.15,-10.1,-10.05],"tickSize":-2.5,"labels":false,"title":null}}}}
 ]
}
]
}
